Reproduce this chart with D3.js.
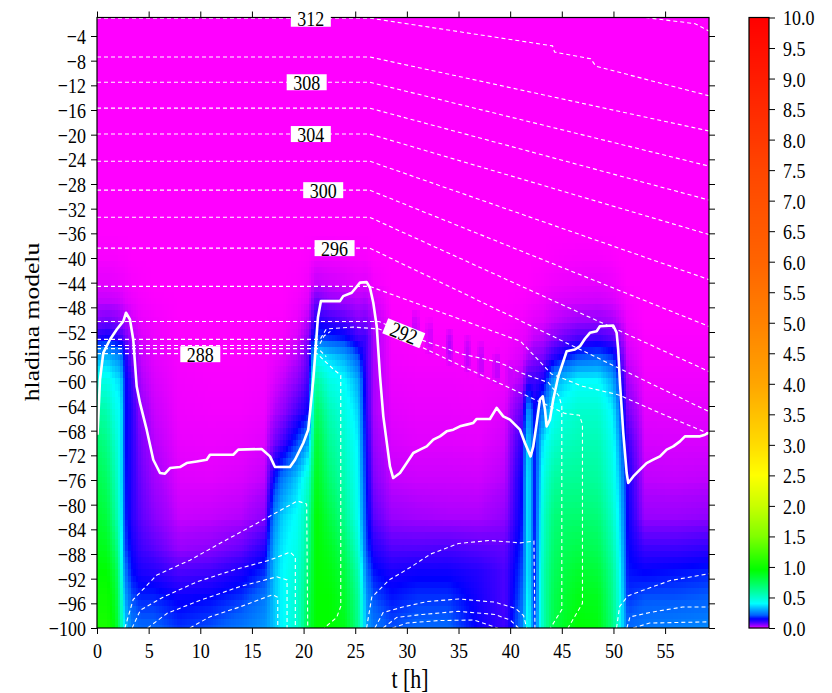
<!DOCTYPE html>
<html>
<head>
<meta charset="utf-8">
<script src="https://cdn.jsdelivr.net/npm/d3@7/dist/d3.min.js"></script>
<style>
  body { margin: 0; background: #fff; }
  svg { display: block; }
</style>
</head>
<body>
<svg id="chart" width="832" height="693"></svg>
<script>
// ---- shaded field: knots in time [h] and model level, one vertical profile per time knot ----
const hours = [0, 1, 1.8, 2.3, 2.7, 3.3, 4.2, 5.5, 8, 11, 14, 16.3, 17.1, 18, 19.5, 20.5, 21.2, 22.5, 24, 25.3,
               26, 26.8, 28.5, 31, 34, 37, 39.5, 41.2, 41.7, 42.4, 43.2, 44.3, 46.5, 48.5, 50, 50.7, 51.4, 53, 56, 59.25];
const levels = [-36, -40, -44, -47, -50, -53, -56, -60, -65, -70, -76, -82, -87, -91, -95, -100];
const profiles = [
  [0,0.002,0.008,0.02,0.05,0.12,0.3,0.45,0.6,0.7,0.78,0.85,0.9,0.95,1.0,1.05],
  [0,0.002,0.008,0.02,0.06,0.14,0.32,0.45,0.56,0.64,0.72,0.8,0.88,0.95,1.0,1.05],
  [0,0.002,0.006,0.018,0.05,0.12,0.28,0.38,0.44,0.5,0.55,0.6,0.7,0.8,0.85,0.9],
  [0,0.001,0.005,0.015,0.04,0.1,0.25,0.36,0.4,0.4,0.4,0.42,0.45,0.5,0.55,0.6],
  [0,0.001,0.004,0.01,0.03,0.07,0.14,0.16,0.16,0.16,0.17,0.18,0.2,0.25,0.3,0.35],
  [0,0,0.002,0.006,0.015,0.03,0.06,0.1,0.12,0.12,0.12,0.12,0.14,0.16,0.2,0.25],
  [0,0,0.001,0.003,0.006,0.012,0.02,0.03,0.045,0.06,0.07,0.08,0.1,0.13,0.17,0.22],
  [0,0,0,0.001,0.003,0.005,0.008,0.012,0.018,0.025,0.035,0.05,0.08,0.12,0.17,0.22],
  [0,0,0,0,0,0.001,0.002,0.003,0.004,0.006,0.01,0.018,0.04,0.09,0.14,0.18],
  [0,0,0,0,0,0,0.001,0.002,0.003,0.005,0.009,0.02,0.048,0.1,0.15,0.2],
  [0,0,0,0,0,0,0.001,0.002,0.003,0.006,0.012,0.026,0.07,0.13,0.18,0.24],
  [0,0,0,0,0,0.001,0.002,0.003,0.005,0.01,0.022,0.05,0.12,0.18,0.24,0.28],
  [0,0,0,0,0.001,0.002,0.005,0.01,0.025,0.06,0.15,0.25,0.3,0.32,0.33,0.33],
  [0,0,0,0,0.001,0.003,0.008,0.02,0.045,0.1,0.25,0.35,0.38,0.4,0.4,0.4],
  [0,0,0.001,0.003,0.006,0.012,0.025,0.05,0.1,0.2,0.35,0.42,0.45,0.48,0.5,0.5],
  [0,0.001,0.004,0.01,0.025,0.05,0.08,0.1,0.15,0.3,0.5,0.6,0.65,0.7,0.75,0.8],
  [0,0.004,0.02,0.07,0.12,0.2,0.4,0.6,0.75,0.85,0.9,0.95,0.95,0.95,0.95,0.95],
  [0,0.004,0.015,0.045,0.1,0.18,0.35,0.45,0.55,0.62,0.7,0.8,0.88,0.92,0.95,0.95],
  [0,0.003,0.012,0.035,0.08,0.16,0.3,0.4,0.45,0.5,0.55,0.62,0.72,0.8,0.85,0.9],
  [0,0.002,0.008,0.025,0.05,0.1,0.2,0.3,0.35,0.38,0.4,0.42,0.48,0.55,0.6,0.62],
  [0,0.002,0.01,0.03,0.06,0.1,0.1,0.11,0.12,0.14,0.16,0.18,0.2,0.24,0.28,0.3],
  [0,0,0.003,0.012,0.025,0.03,0.03,0.03,0.03,0.04,0.055,0.08,0.12,0.16,0.2,0.24],
  [0,0,0,0,0.001,0.002,0.003,0.005,0.008,0.012,0.02,0.04,0.085,0.13,0.16,0.2],
  [0,0,0,0,0,0.001,0.002,0.004,0.006,0.009,0.017,0.034,0.085,0.14,0.18,0.22],
  [0,0,0,0,0,0.001,0.002,0.004,0.006,0.009,0.017,0.03,0.09,0.14,0.18,0.22],
  [0,0,0,0,0,0.001,0.002,0.003,0.005,0.008,0.016,0.03,0.08,0.12,0.13,0.14],
  [0,0,0,0,0.001,0.002,0.003,0.005,0.01,0.016,0.026,0.045,0.075,0.09,0.09,0.1],
  [0,0,0,0.001,0.003,0.006,0.012,0.03,0.08,0.12,0.15,0.16,0.18,0.2,0.22,0.25],
  [0,0,0,0.002,0.005,0.01,0.03,0.1,0.3,0.38,0.4,0.4,0.4,0.4,0.42,0.45],
  [0,0,0.001,0.003,0.008,0.02,0.05,0.1,0.15,0.16,0.16,0.16,0.17,0.17,0.18,0.2],
  [0,0,0.002,0.005,0.01,0.025,0.06,0.13,0.25,0.38,0.45,0.5,0.52,0.55,0.55,0.55],
  [0,0.001,0.004,0.01,0.02,0.05,0.12,0.3,0.42,0.5,0.6,0.68,0.72,0.75,0.78,0.8],
  [0,0.002,0.006,0.014,0.035,0.09,0.2,0.4,0.5,0.55,0.62,0.7,0.78,0.85,0.9,0.95],
  [0,0.002,0.007,0.016,0.04,0.1,0.22,0.4,0.5,0.55,0.6,0.68,0.75,0.82,0.88,0.92],
  [0,0.001,0.005,0.012,0.03,0.08,0.18,0.3,0.38,0.42,0.45,0.5,0.55,0.6,0.62,0.65],
  [0,0,0.002,0.006,0.015,0.04,0.08,0.14,0.2,0.25,0.3,0.33,0.36,0.38,0.4,0.4],
  [0,0,0,0.002,0.004,0.008,0.015,0.03,0.06,0.1,0.13,0.14,0.15,0.16,0.18,0.22],
  [0,0,0,0,0,0.001,0.002,0.004,0.008,0.013,0.022,0.04,0.1,0.15,0.2,0.24],
  [0,0,0,0,0,0.001,0.002,0.004,0.008,0.012,0.02,0.04,0.1,0.16,0.2,0.25],
  [0,0,0,0,0,0.001,0.002,0.004,0.008,0.012,0.022,0.045,0.11,0.17,0.21,0.26]
];

// narrow streaks above the boundary between the 2nd and 3rd convective episode
const streakT = [30.8, 32.2, 34.1, 35.9, 37.2, 38.7, 40.0];
const streakTop = [-48.5, -50, -51.5, -52.5, -53.5, -55, -56];
const streakBottom = [-54.5, -56, -57.5, -59, -60, -61, -62];
const streakValue = [0.016, 0.012, 0.024, 0.019, 0.017, 0.019, 0.017];

// ---- boundary curve (thick white line) ----
const boundaryT = [0.05,0.29,0.61,1.26,1.91,2.55,2.81,3.19,3.51,3.84,4.16,4.81,5.45,6.10,6.58,7.07,8.03,8.68,9.65,10.62,
  10.94,13.19,13.68,15.94,16.75,17.23,18.68,19.17,19.97,20.45,20.94,21.39,21.68,23.52,23.84,24.66,24.98,25.46,26.11,26.43,
  26.75,27.08,27.40,27.72,28.36,28.68,29.33,29.98,30.62,31.27,31.92,32.56,33.20,33.85,34.49,35.14,35.79,36.43,36.76,38.04,
  38.69,39.33,39.98,40.95,41.43,41.98,42.24,42.57,42.88,43.15,43.37,43.53,43.85,44.17,44.66,44.99,45.47,46.27,46.76,47.24,
  47.72,48.37,48.69,49.98,50.31,50.46,50.63,50.95,51.28,51.43,51.92,52.57,53.21,53.85,54.50,55.15,55.79,56.44,56.92,58.37,
  58.86,59.25];
const boundaryL = [-68.65,-59.71,-55.38,-53.22,-51.59,-50.24,-48.88,-49.97,-53.22,-60.80,-63.50,-67.84,-72.71,-74.87,-74.98,-74.06,-73.90,-73.25,-72.99,-72.71,
  -71.90,-71.90,-71.08,-70.97,-72.17,-73.90,-73.90,-72.71,-70.00,-67.84,-59.71,-49.64,-46.99,-46.99,-46.18,-45.63,-44.98,-44.00,-43.91,-44.82,
  -47.25,-51.06,-59.18,-65.68,-73.80,-75.68,-74.87,-73.25,-71.62,-71.08,-70.55,-69.46,-68.92,-68.11,-67.84,-67.30,-67.02,-66.75,-66.10,-66.10,
  -64.31,-65.68,-66.21,-67.84,-70.00,-72.17,-70.55,-66.75,-62.96,-62.43,-64.59,-67.30,-66.21,-62.96,-59.18,-57.55,-55.12,-54.84,-54.30,-53.10,
  -52.13,-51.87,-51.06,-50.94,-52.13,-54.84,-60.25,-68.37,-74.87,-76.49,-75.42,-74.33,-73.25,-72.71,-72.17,-71.08,-70.55,-69.74,-68.92,-68.92,
  -68.65,-68.32];

// ---- isentropes (dashed white lines), points as [t, level] ----
const isentropes = [
  { theta: 314, pts: [[53.1,-1.0],[57.9,-2.0],[59.25,-3.2]] },
  { theta: 312, pts: [[0,-1.1],[26.4,-1.1],[44.1,-5.6],[44.3,-6.6],[47.8,-7.7],[48.3,-8.9],[59.25,-13.7]] },
  { theta: 310, pts: [[0,-7.4],[26.4,-7.4],[59.25,-19.4]] },
  { theta: 308, pts: [[0,-11.5],[26.4,-11.5],[59.25,-25.1]] },
  { theta: 306, pts: [[0,-15.7],[26.4,-15.7],[59.25,-30.6]] },
  { theta: 304, pts: [[0,-19.9],[26.4,-19.9],[59.25,-36.2]] },
  { theta: 302, pts: [[0,-24.3],[26.4,-24.3],[59.25,-43.5]] },
  { theta: 300, pts: [[0,-29.0],[26.4,-29.0],[59.25,-51.1]] },
  { theta: 298, pts: [[0,-33.4],[26.4,-33.4],[59.25,-58.4]] },
  { theta: 296, pts: [[0,-38.4],[26.4,-38.4],[59.25,-64.9]] },
  { theta: 294, pts: [[0,-44.6],[26.4,-44.6],[41,-53.5],[44,-58.8],[47,-60.8],[50.5,-62.2],[55,-65.5],[59.25,-68.5]] },
  { theta: 292, pts: [[0,-50.3],[27.3,-50.3],[31.6,-53.4],[35.4,-55.6],[38.9,-56.9],[39.7,-57.5],[41,-58.6],[43.7,-60.2],[44.7,-62.3],[45,-64],[45,-97],[43.9,-100]] },
  { theta: 290, pts: [[0,-53.2],[21.6,-53.2],[22.2,-51.5],[24.8,-51.2],[27.3,-51.5],[31.6,-54.6],[35.4,-57.6],[40.9,-61.8],[43.5,-63.8],[45.3,-65.2],[46.7,-65.5],[47,-67],[47,-96],[45.6,-100]] },
  { theta: 289, pts: [[0,-54.2],[21.5,-54.2],[22.0,-52.6],[22.6,-51.9]] },
  { theta: 288.5, pts: [[0,-54.7],[21.4,-54.7],[22.2,-56.0]] },
  { theta: 288, pts: [[0,-55.5],[21.3,-55.5],[22.1,-56.8],[23.0,-58.2],[23.6,-59],[23.6,-96.5],[23.2,-98.3],[22.0,-100]] },
  { theta: 286, pts: [[2.7,-100],[3.5,-95.4],[5.8,-91.4],[9.0,-89],[12.2,-86],[15.5,-83],[19.4,-79.4],[20.3,-79.9],[20.4,-100]] },
  { theta: 284, pts: [[3.4,-100],[4.2,-97.1],[6.4,-95],[9.7,-92.5],[13.2,-90.6],[16.7,-89],[18.7,-87.7],[19.2,-88.5],[19.2,-100]] },
  { theta: 282, pts: [[4.9,-100],[6.8,-97.6],[10,-95.5],[13.8,-93.3],[17.4,-91.7],[18.4,-92.2],[18.4,-100]] },
  { theta: 280, pts: [[9,-100],[10.9,-98.2],[13.8,-96.6],[17,-94.6],[17.5,-95],[17.5,-100]] },
  { theta: 286, pts: [[26.1,-100],[26.6,-95],[28.3,-92.2],[30.3,-90.2],[32.3,-88],[35,-86.3],[38,-85.8],[41,-86.2],[42.3,-85.9],[42.4,-100]] },
  { theta: 284, pts: [[26.9,-100],[27.7,-97.5],[29.6,-96.6],[32,-95.7],[35,-95.3],[38.5,-95.8],[40.5,-96.8],[41.3,-98],[41.6,-100]] },
  { theta: 282, pts: [[27.7,-100],[29,-98.3],[31.5,-97.8],[35,-97.3],[38.5,-97.8],[40,-98.7],[40.8,-100]] },
  { theta: 280, pts: [[28.6,-100],[30,-99.2],[33,-98.8],[36.5,-98.7],[38.8,-100]] },
  { theta: 286, pts: [[50.3,-100],[50.6,-96.5],[51.4,-94.8],[53,-93.8],[55.5,-92.3],[59.25,-91.2]] },
  { theta: 284, pts: [[51.3,-100],[51.6,-98.2],[53.8,-97.4],[56.7,-96.6],[59.25,-96.6]] },
  { theta: 282, pts: [[51.9,-100],[53.5,-99.2],[59.25,-99]] }
];
// labelled isentropes: value, [t, level] of the label centre, rotation in degrees
const thetaLabels = [
  { text: "312", t: 20.7, L: -1.2, angle: 0 },
  { text: "308", t: 20.3, L: -11.5, angle: 0 },
  { text: "304", t: 20.7, L: -19.9, angle: 0 },
  { text: "300", t: 21.9, L: -29.0, angle: 0 },
  { text: "296", t: 23.0, L: -38.4, angle: 0 },
  { text: "292", t: 29.7, L: -52.2, angle: 22 },
  { text: "288", t: 10.0, L: -55.6, angle: 0 }
];

// ---- ticks ----
const xTicks = d3.range(0, 56, 5);
const yTicks = d3.range(-4, -101, -4);
const cbTicks = d3.range(0, 10.01, 0.5);

// ---- colour palette ----
const colorStops = [0, 0.004, 0.012, 0.03, 0.06, 0.1, 0.15, 0.21, 0.3, 0.4, 0.55, 0.72, 0.95, 1.5, 2.0, 2.5, 3.0, 4.0, 5.0, 6.0, 7.5, 10];
const colorHex = ['#ff00ff','#f000ff','#d800ff','#aa00ff','#7800ff','#3c00ff','#0000ff','#0060ff','#00a8ff','#00ffff','#00ffb4',
                  '#00ff64','#00ff00','#80ff00','#c8ff00','#ffff00','#ffdc00','#ffa500','#ff8200','#ff6400','#ff4600','#ff0000'];
const color = d3.scaleLinear().domain(colorStops).range(colorHex).interpolate(d3.interpolateRgb).clamp(true);

// ---- layout ----
const W = 832, H = 693;
const plot = { l: 97, r: 709, t: 17.5, b: 628 };
const cbox = { l: 749, r: 769 };
const STRETCH = 1.22;
const FONT = '"Liberation Serif", "Times New Roman", serif';

const x = d3.scaleLinear().domain([0, 59.25]).range([plot.l, plot.r]);
const y = d3.scaleLinear().domain([-100, -1]).range([plot.b, plot.t]);
const cb = d3.scaleLinear().domain([0, 10]).range([plot.b, plot.t]);

const svg = d3.select('#chart');

// bilinear value of the field at time t and level L, plus the streaks
function fieldAt(t, L) {
  let i = d3.bisectRight(hours, t) - 1;
  i = Math.max(0, Math.min(hours.length - 2, i));
  const ft = Math.max(0, Math.min(1, (t - hours[i]) / (hours[i + 1] - hours[i])));
  const Lc = Math.max(levels[levels.length - 1], Math.min(levels[0], L));
  let j = 0;
  while (j < levels.length - 2 && Lc < levels[j + 1]) j++;
  const fl = (levels[j] - Lc) / (levels[j] - levels[j + 1]);
  const a = profiles[i][j] * (1 - fl) + profiles[i][j + 1] * fl;
  const b = profiles[i + 1][j] * (1 - fl) + profiles[i + 1][j + 1] * fl;
  let v = a * (1 - ft) + b * ft;
  streakT.forEach((st, k) => {
    if (Math.abs(t - st) <= 0.4 && L <= streakTop[k] && L >= streakBottom[k]) {
      const edge = Math.min(1, (streakTop[k] - L + 0.5) / 2.5, (L - streakBottom[k] + 0.5) / 2.5);
      const side = Math.abs(t - st) > 0.2 ? 0.6 : 1;
      v = Math.max(v, streakValue[k] * edge * side);
    }
  });
  return v;
}

// shaded field on the model grid (0.25 h x 1 level)
const canvas = document.createElement('canvas');
canvas.width = W; canvas.height = H;
const ctx = canvas.getContext('2d');
const dt = 0.25;
for (let t0 = 0; t0 < 59.25 - 1e-9; t0 += dt) {
  const t1 = Math.min(59.25, t0 + dt);
  const x0 = Math.round(x(t0)), x1 = Math.round(x(t1));
  for (let k = -1; k >= -100; k--) {
    const y0 = Math.round(y(k + 0.5)), y1 = Math.round(y(k - 0.5));
    ctx.fillStyle = color(fieldAt((t0 + t1) / 2, k));
    ctx.fillRect(x0, y0, x1 - x0, y1 - y0);
  }
}
const defs = svg.append('defs');
defs.append('clipPath').attr('id', 'plotClip').append('rect')
  .attr('x', plot.l).attr('y', plot.t).attr('width', plot.r - plot.l).attr('height', plot.b - plot.t);
svg.append('image').attr('href', canvas.toDataURL()).attr('x', 0).attr('y', 0)
  .attr('width', W).attr('height', H).attr('clip-path', 'url(#plotClip)');

// isentropes
const line = d3.line().x(d => x(d[0])).y(d => y(d[1]));
svg.append('g').attr('clip-path', 'url(#plotClip)')
  .selectAll('path').data(isentropes).join('path')
  .attr('d', d => line(d.pts))
  .attr('fill', 'none').attr('stroke', '#fff').attr('stroke-width', 1.1).attr('stroke-dasharray', '4,3');

// boundary curve
const boundary = boundaryT.map((t, i) => [t, boundaryL[i]]);
svg.append('path').datum(boundary).attr('clip-path', 'url(#plotClip)')
  .attr('d', line).attr('fill', 'none').attr('stroke', '#fff')
  .attr('stroke-width', 2.6).attr('stroke-linejoin', 'round');

// frame
svg.append('rect').attr('x', plot.l).attr('y', plot.t).attr('width', plot.r - plot.l).attr('height', plot.b - plot.t)
  .attr('fill', 'none').attr('stroke', '#000').attr('stroke-width', 1.2);

function styleAxis(g) {
  g.select('.domain').remove();
  g.attr('font-family', FONT).attr('font-size', 18);
  g.selectAll('.tick line').attr('stroke', '#000').attr('stroke-width', 1);
}

const gx = svg.append('g').attr('transform', `translate(0,${plot.b})`)
  .call(d3.axisBottom(x).tickValues(xTicks).tickSize(6).tickSizeOuter(0));
styleAxis(gx);
gx.selectAll('text').attr('y', 0).attr('dy', '0.71em').attr('transform', `translate(0,14) scale(1,${STRETCH})`);

const gy = svg.append('g').attr('transform', `translate(${plot.l},0)`)
  .call(d3.axisLeft(y).tickValues(yTicks).tickSize(6).tickSizeOuter(0));
styleAxis(gy);
gy.selectAll('text').attr('x', 0).attr('dy', '0.34em').attr('transform', `translate(-11,0) scale(1,${STRETCH})`);

const gt = svg.append('g').attr('transform', `translate(0,${plot.t})`)
  .call(d3.axisTop(x).tickValues(xTicks).tickSize(6).tickSizeOuter(0).tickFormat(''));
styleAxis(gt);
const gr = svg.append('g').attr('transform', `translate(${plot.r},0)`)
  .call(d3.axisRight(y).tickValues(yTicks).tickSize(6).tickSizeOuter(0).tickFormat(''));
styleAxis(gr);

// isentrope labels
const lab = svg.append('g').selectAll('g').data(thetaLabels).join('g')
  .attr('transform', d => `translate(${x(d.t)},${y(d.L)}) rotate(${d.angle})`);
lab.append('rect').attr('x', -20).attr('y', -8).attr('width', 40).attr('height', 16).attr('fill', '#fff');
lab.append('text').text(d => d.text)
  .attr('text-anchor', 'middle').attr('dy', '0.34em')
  .attr('font-family', FONT).attr('font-size', 18)
  .attr('transform', `scale(1,${STRETCH})`);

// colour bar
const rows = d3.range(Math.floor(plot.t), plot.b);
svg.append('g').selectAll('rect').data(rows).join('rect')
  .attr('x', cbox.l).attr('y', d => d).attr('width', cbox.r - cbox.l).attr('height', 1.2)
  .attr('fill', d => color(cb.invert(d + 0.5)));
svg.append('rect').attr('x', cbox.l).attr('y', plot.t).attr('width', cbox.r - cbox.l).attr('height', plot.b - plot.t)
  .attr('fill', 'none').attr('stroke', '#000').attr('stroke-width', 1.2);
const gc = svg.append('g').attr('transform', `translate(${cbox.r},0)`)
  .call(d3.axisRight(cb).tickValues(cbTicks).tickSize(6).tickSizeOuter(0).tickFormat(d3.format('.1f')));
styleAxis(gc);
gc.selectAll('text').attr('x', 0).attr('dy', '0.34em').attr('transform', `translate(14,0) scale(1,${STRETCH})`);

// axis titles
svg.append('text').text('t [h]')
  .attr('text-anchor', 'middle').attr('font-family', FONT).attr('font-size', 22)
  .attr('transform', `translate(410,688) scale(1,${STRETCH})`);
svg.append('text').text('hladina modelu')
  .attr('text-anchor', 'middle').attr('font-family', FONT).attr('font-size', 21)
  .attr('transform', `translate(39,322) rotate(-90) scale(${STRETCH},1)`);
</script>
</body>
</html>
